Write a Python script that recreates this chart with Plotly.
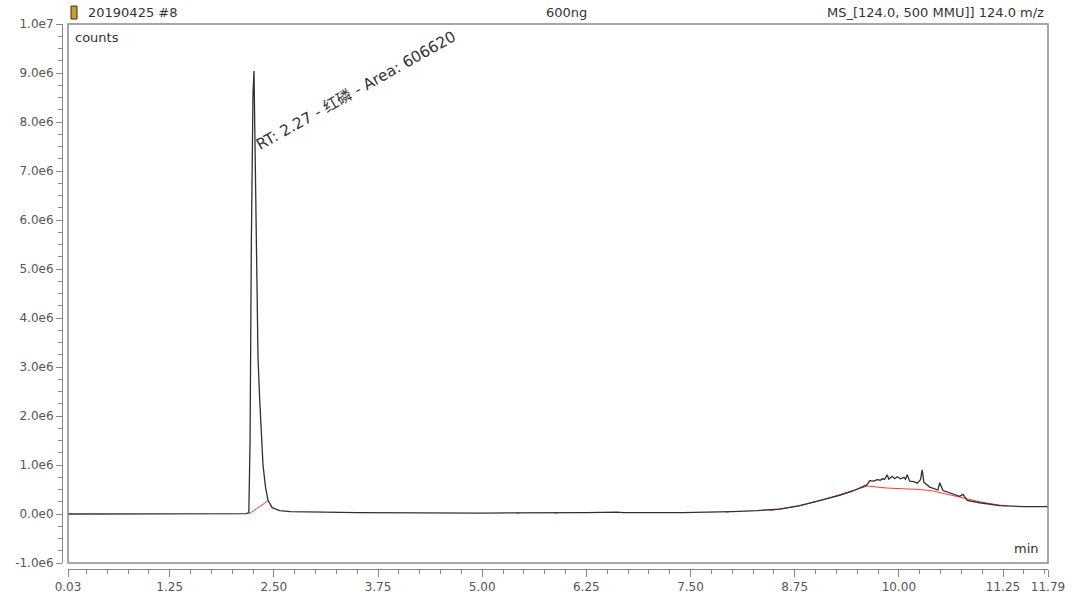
import plotly.graph_objects as go

# ---------------- data (counts in millions) ----------------
time_min = [0.03, 1.00, 2.00, 2.17, 2.200, 2.215, 2.230, 2.250, 2.262, 2.275, 2.29, 2.31,
            2.33, 2.35, 2.37, 2.40, 2.43, 2.48, 2.57, 2.70, 3.50, 5.00, 5.43, 5.89, 6.25,
            6.62, 6.66, 6.70, 7.40, 7.94, 8.00, 8.30, 8.57, 8.81, 9.05, 9.29, 9.45, 9.55,
            9.62, 9.65, 9.70, 9.74, 9.78, 9.80, 9.83, 9.86, 9.88, 9.92, 9.95, 9.98, 10.02,
            10.06, 10.08, 10.10, 10.13, 10.18, 10.22, 10.26, 10.28, 10.30, 10.37, 10.47,
            10.49, 10.53, 10.61, 10.73, 10.77, 10.82, 10.97, 11.21, 11.50, 11.79]
counts_m = [0.00, 0.00, 0.00, 0.01, 0.03, 1.50, 5.50, 8.60, 9.04, 7.50, 5.00, 3.20,
            2.35, 1.55, 1.00, 0.55, 0.28, 0.13, 0.07, 0.05, 0.03, 0.02, 0.02, 0.02, 0.03,
            0.04, 0.03, 0.03, 0.03, 0.04, 0.05, 0.07, 0.10, 0.17, 0.27, 0.38, 0.47, 0.55,
            0.60, 0.68, 0.67, 0.70, 0.69, 0.72, 0.71, 0.80, 0.71, 0.77, 0.72, 0.76, 0.72,
            0.75, 0.71, 0.80, 0.67, 0.66, 0.63, 0.70, 0.90, 0.65, 0.55, 0.49,
            0.64, 0.48, 0.43, 0.36, 0.40, 0.28, 0.23, 0.17, 0.15, 0.15]

# integration baselines (separate segments split by None)
base_t = [2.20, 2.43, None, 5.41, 5.45, None, 5.87, 5.91, None, 6.60, 6.64, None,
          6.68, 6.72, None, 7.38, 7.42, None, 7.92, 7.96, None,
          8.45, 8.79, 9.05, 9.30, 9.45, 9.62, 9.86, 10.26, 10.41, 10.73, 10.97, 11.21, 11.30]
base_c = [0.00, 0.27, None, 0.02, 0.02, None, 0.02, 0.02, None, 0.03, 0.03, None,
          0.03, 0.03, None, 0.03, 0.03, None, 0.04, 0.04, None,
          0.07, 0.16, 0.27, 0.40, 0.48, 0.57, 0.53, 0.50, 0.47, 0.34, 0.25, 0.18, 0.17]

x_tick_vals = [0.03, 1.25, 2.50, 3.75, 5.00, 6.25, 7.50, 8.75, 10.00, 11.25, 11.79]
x_tick_text = ["0.03", "1.25", "2.50", "3.75", "5.00", "6.25", "7.50", "8.75", "10.00", "11.25", "11.79"]
y_tick_vals_m = [-1, 0, 1, 2, 3, 4, 5, 6, 7, 8, 9, 10]
y_tick_text = ["-1.0e6", "0.0e0", "1.0e6", "2.0e6", "3.0e6", "4.0e6", "5.0e6",
               "6.0e6", "7.0e6", "8.0e6", "9.0e6", "1.0e7"]

peak_rt = 2.27
peak_name = "红磷"
peak_area = 606620

# ---------------- figure ----------------
M = 1e6
FONT = "DejaVu Sans, Noto Sans CJK SC, sans-serif"
GRAY = "#555555"
TXT = "#333333"

fig = go.Figure()
fig.add_trace(go.Scatter(x=base_t, y=[None if v is None else v * M for v in base_c],
                         mode="lines", line=dict(color="#ff3b3b", width=1),
                         connectgaps=False, hoverinfo="skip", showlegend=False))
fig.add_trace(go.Scatter(x=time_min, y=[v * M for v in counts_m], mode="lines",
                         line=dict(color="#303030", width=1.3), showlegend=False))

W, H = 1080, 606
ml, mr, mt, mb = 62, 1080 - 1048, 24, 606 - 571
pw = W - ml - mr
ph = H - mt - mb

fig.update_layout(
    width=W, height=H,
    margin=dict(l=ml, r=mr, t=mt, b=mb, pad=0),
    paper_bgcolor="white", plot_bgcolor="white",
    font=dict(family=FONT, size=13, color=GRAY),
    xaxis=dict(domain=[6 / pw, 1], anchor="free", position=0,
               range=[0.03, 11.79], showgrid=False, zeroline=False,
               showline=True, linecolor="#888888", linewidth=1,
               tickmode="array", tickvals=x_tick_vals, ticktext=x_tick_text,
               ticks="outside", ticklen=7, tickcolor="#888888", tickwidth=1,
               tickfont=dict(size=12, color=GRAY),
               minor=dict(tick0=0, dtick=0.25, ticks="outside", ticklen=4,
                          tickcolor="#888888", showgrid=False)),
    yaxis=dict(domain=[6 / ph, 1], anchor="free", position=0,
               range=[-1 * M, 10 * M], showgrid=False, zeroline=False,
               showline=True, linecolor="#888888", linewidth=1,
               tickmode="array", tickvals=[v * M for v in y_tick_vals_m], ticktext=y_tick_text,
               ticks="outside", ticklen=6, tickcolor="#888888", tickwidth=1,
               tickfont=dict(size=12, color=GRAY),
               minor=dict(tick0=0, dtick=0.25 * M, ticks="outside", ticklen=4,
                          tickcolor="#888888", showgrid=False)),
)

# plot frame
fig.add_shape(type="rect", xref="x domain", yref="y domain", x0=0, x1=1, y0=0, y1=1,
              line=dict(color="#8a8a8a", width=1.5), fillcolor="rgba(0,0,0,0)", layer="above")


def px_x(p):
    return (p - ml) / pw


def px_y(p):
    return 1 - (p - mt) / ph


# header icon (small)
fig.add_shape(type="rect", xref="paper", yref="paper",
              x0=px_x(71), x1=px_x(77), y0=px_y(19), y1=px_y(6),
              line=dict(color="#3a2e10", width=1), fillcolor="#c9a030")

fig.add_annotation(text="20190425 #8", xref="paper", yref="paper", x=px_x(86), y=px_y(12),
                   xanchor="left", yanchor="middle", showarrow=False,
                   font=dict(size=13, color=TXT))
fig.add_annotation(text="600ng", xref="paper", yref="paper", x=px_x(566), y=px_y(12),
                   xanchor="center", yanchor="middle", showarrow=False,
                   font=dict(size=13, color=TXT))
fig.add_annotation(text="MS_[124.0, 500 MMU]] 124.0 m/z", xref="paper", yref="paper",
                   x=px_x(1046), y=px_y(12), xanchor="right", yanchor="middle",
                   showarrow=False, font=dict(size=13, color=TXT))
fig.add_annotation(text="counts", xref="paper", yref="paper", x=px_x(73), y=px_y(38),
                   xanchor="left", yanchor="middle", showarrow=False,
                   font=dict(size=13, color=TXT))
fig.add_annotation(text="min", xref="paper", yref="paper", x=px_x(1041), y=px_y(550),
                   xanchor="right", yanchor="middle", showarrow=False,
                   font=dict(size=13, color=TXT))

# peak label (rotated)
fig.add_annotation(text=f"RT: {peak_rt:.2f} - {peak_name} - Area: {peak_area}",
                   x=3.48, y=8.64 * M, xref="x", yref="y", xanchor="center", yanchor="middle",
                   textangle=-29.3, showarrow=False,
                   font=dict(size=15.3, color=TXT, family=FONT))

fig.write_html(
    "out.html",
    config={"displayModeBar": False},
    post_script=("document.body.style.margin='0';document.body.style.padding='0';"
                 "document.documentElement.style.overflow='hidden';"),
)
